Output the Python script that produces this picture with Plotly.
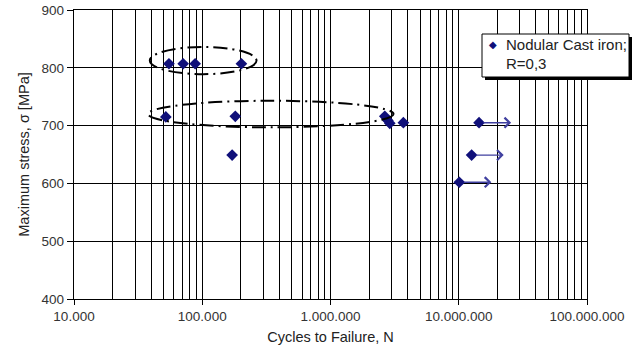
import math
import plotly.graph_objects as go

# ---------------- data ----------------
cycles = [55000, 71000, 88000, 202000,
          52000, 181000, 171000,
          2650000, 2800000, 2900000, 3700000]
stress = [807, 807, 807, 807,
          715, 716, 649,
          716, 709, 704, 705]

runout_cycles = [14400000, 12600000, 10100000]
runout_stress = [705, 649, 602]

x_tickvals = [1e4, 1e5, 1e6, 1e7, 1e8]
x_ticktext = ["10.000", "100.000", "1.000.000", "10.000.000", "100.000.000"]
y_tickvals = [400, 500, 600, 700, 800, 900]

series_name_lines = ["Nodular Cast iron;", "R=0,3"]

# ---------------- layout constants ----------------
W, H = 636, 352
ML, MR, MT, MB = 74, 49, 10, 53
PW, PH = W - ML - MR, H - MT - MB

def px2paper_x(px):
    return (px - ML) / PW

def px2paper_y(py):
    return (H - MB - py) / PH

marker_color = "#10107a"
arrow_color = "#4040a0"
grid_color = "#000000"
text_color = "#333333"
font_family = "Liberation Sans, Arial, sans-serif"

fig = go.Figure()

fig.add_trace(go.Scatter(
    x=cycles + runout_cycles,
    y=stress + runout_stress,
    mode="markers",
    marker=dict(symbol="diamond", size=9, color=marker_color),
    name=" ".join(series_name_lines),
    showlegend=False,
    cliponaxis=False,
))

# run-out arrows
arrow_len_dec = 0.25
annotations = []
for n, s in zip(runout_cycles, runout_stress):
    annotations.append(dict(
        x=math.log10(n) + arrow_len_dec, y=s, xref="x", yref="y",
        ax=math.log10(n), ay=s, axref="x", ayref="y",
        showarrow=True, arrowhead=4, arrowsize=1.4, arrowwidth=1.4,
        arrowcolor=arrow_color, standoff=0, startstandoff=3, text="",
    ))

# grouping ellipses (annotation shapes)
dash = "14px,5px,2px,5px"
shapes = [
    dict(type="circle", xref="x", yref="y", x0=39000, x1=265000, y0=789, y1=836,
         line=dict(color="black", width=2, dash=dash), layer="above"),
    dict(type="circle", xref="x", yref="y", x0=37900, x1=3100000, y0=697, y1=743,
         line=dict(color="black", width=2, dash=dash), layer="above"),
]

# manual legend box with shadow
bx0, bx1, by0, by1 = 482, 629, 34, 77
shapes.append(dict(type="rect", xref="paper", yref="paper",
                   x0=px2paper_x(bx0 + 3), x1=px2paper_x(bx1 + 3),
                   y0=px2paper_y(by1 + 3), y1=px2paper_y(by0 + 3),
                   fillcolor="black", line=dict(width=0), layer="above"))
shapes.append(dict(type="rect", xref="paper", yref="paper",
                   x0=px2paper_x(bx0), x1=px2paper_x(bx1),
                   y0=px2paper_y(by1), y1=px2paper_y(by0),
                   fillcolor="white", line=dict(color="black", width=1), layer="above"))

for i, line in enumerate(series_name_lines):
    annotations.append(dict(
        x=px2paper_x(504), y=px2paper_y(45 + 19 * i), xref="paper", yref="paper",
        xanchor="left", yanchor="middle", align="left", showarrow=False,
        text=line, font=dict(family=font_family, size=15, color="#222222"),
    ))
annotations.append(dict(
    x=px2paper_x(493), y=px2paper_y(45), xref="paper", yref="paper",
    xanchor="center", yanchor="middle", showarrow=False,
    text="◆", font=dict(family="DejaVu Sans", size=10, color=marker_color),
))

fig.update_layout(
    width=W, height=H,
    margin=dict(l=ML, r=MR, t=MT, b=MB, autoexpand=False),
    paper_bgcolor="white", plot_bgcolor="white",
    font=dict(family=font_family, color=text_color),
    shapes=shapes, annotations=annotations,
    showlegend=False,
)

fig.update_xaxes(
    type="log", range=[4, 8], automargin=False,
    tickvals=x_tickvals, ticktext=x_ticktext,
    tickfont=dict(size=13.5, color=text_color),
    ticks="outside", ticklen=5, tickcolor="black",
    showgrid=True, gridcolor=grid_color, gridwidth=1.4,
    minor=dict(dtick="D1", showgrid=True, gridcolor=grid_color, gridwidth=1.4, ticks=""),
    showline=True, linecolor="black", linewidth=1.4, mirror=True,
    title=dict(text="Cycles to Failure, N", font=dict(size=14.5, color="#222222"), standoff=8),
    zeroline=False,
)
fig.update_yaxes(
    range=[400, 900], tickvals=y_tickvals, automargin=False,
    tickfont=dict(size=13.5, color=text_color),
    ticks="outside", ticklen=6, tickcolor="black",
    showgrid=True, gridcolor=grid_color, gridwidth=1.4,
    showline=True, linecolor="black", linewidth=1.4, mirror=True,
    title=dict(text="Maximum stress, σ [MPa]", font=dict(size=14.5, color="#222222"), standoff=8),
    zeroline=False,
)

fig.write_html("out.html")
